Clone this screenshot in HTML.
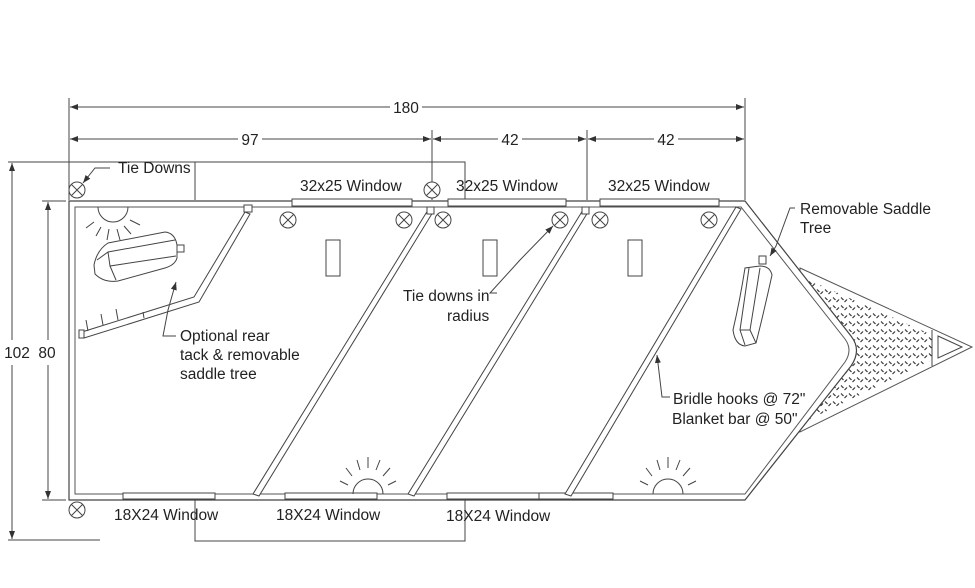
<!DOCTYPE html>
<html><head><meta charset="utf-8"><style>
html,body{margin:0;padding:0;background:#fff}
svg{display:block}
text{font-family:"Liberation Sans",sans-serif;font-size:15.5px;fill:#222}
</style></head><body>
<svg width="975" height="588" viewBox="0 0 975 588" xmlns="http://www.w3.org/2000/svg">
<defs>
<pattern id="dp" width="8" height="8" patternUnits="userSpaceOnUse">
<path d="M1 1.5 L3.5 4 M4.5 6 L7 3.5" stroke="#333" stroke-width="1.2" fill="none"/>
</pattern>
<marker id="ar" markerWidth="8" markerHeight="6" refX="8" refY="3" orient="auto"><path d="M0 0 L8 3 L0 6z" fill="#333"/></marker>
<marker id="al" markerWidth="8" markerHeight="6" refX="0" refY="3" orient="auto"><path d="M8 0 L0 3 L8 6z" fill="#333"/></marker>
<g id="td"><circle r="8" fill="#fff" stroke="#444" stroke-width="1"/><path d="M-5.5 -5.5 L5.5 5.5 M5.5 -5.5 L-5.5 5.5" stroke="#444" stroke-width="1"/></g>
</defs>
<g stroke="#444" stroke-width="1" fill="none">
<line x1="69" y1="98" x2="69" y2="200"/>
<line x1="745" y1="98" x2="745" y2="200"/>
<line x1="432" y1="130" x2="432" y2="200"/>
<line x1="587" y1="130" x2="587" y2="200"/>
<line x1="70" y1="107" x2="390" y2="107" marker-start="url(#al)"/>
<line x1="422" y1="107" x2="744" y2="107" marker-end="url(#ar)"/>
<line x1="70" y1="139" x2="238" y2="139" marker-start="url(#al)"/>
<line x1="262" y1="139" x2="431" y2="139" marker-end="url(#ar)"/>
<line x1="433" y1="139" x2="498" y2="139" marker-start="url(#al)"/>
<line x1="522" y1="139" x2="586" y2="139" marker-end="url(#ar)"/>
<line x1="588" y1="139" x2="654" y2="139" marker-start="url(#al)"/>
<line x1="678" y1="139" x2="744" y2="139" marker-end="url(#ar)"/>
<polyline points="8,162 195,162"/>
<polyline points="195,200 195,162 465,162 465,200"/>
<polyline points="8,540 100,540"/>
<polyline points="195,500 195,541 465,541 465,500"/>
<line x1="12" y1="163" x2="12" y2="340" marker-start="url(#al)"/>
<line x1="12" y1="365" x2="12" y2="539" marker-end="url(#ar)"/>
<line x1="42" y1="201" x2="66" y2="201"/>
<line x1="42" y1="500" x2="66" y2="500"/>
<line x1="48" y1="202" x2="48" y2="340" marker-start="url(#al)"/>
<line x1="48" y1="365" x2="48" y2="499" marker-end="url(#ar)"/>
<polygon points="800,268 972,347 800,432" stroke="#555"/>
<polygon points="800,276 932,335 932,360 800,424" fill="url(#dp)" stroke="none"/>
<line x1="932" y1="330" x2="932" y2="366"/>
<polygon points="938,336 962,347 938,358"/>
<path d="M69 201 L745 201 L851 336 Q862 350 851 366 L745 500 L69 500 Z" fill="#fff" stroke="#444" stroke-width="1.2"/>
<path d="M75 207 L741 207 L845 339 Q853 350 845 362 L745 494 L75 494 Z" stroke="#555"/>
<rect x="292" y="199" width="120" height="7" fill="#fff"/>
<rect x="448" y="199" width="118" height="7" fill="#fff"/>
<rect x="600" y="199" width="119" height="7" fill="#fff"/>
<rect x="123" y="493" width="92" height="6" fill="#fff"/>
<rect x="285" y="493" width="92" height="6" fill="#fff"/>
<rect x="447" y="493" width="92" height="6" fill="#fff"/>
<rect x="539" y="493" width="74" height="6" fill="#fff"/>
<polygon points="428,210 433,212 259,496 253,494" fill="#fff"/>
<polygon points="583,210 588,212 414,496 408,494" fill="#fff"/>
<polygon points="736,207 741,209 571,496 565,494" fill="#fff"/>
<polygon points="245,212 250,214 199,302 84,338 82,332 194,297" fill="#fff"/>
<rect x="244" y="205" width="8" height="7" fill="#fff"/>
<rect x="427" y="207" width="7" height="7" fill="#fff"/>
<rect x="582" y="207" width="7" height="7" fill="#fff"/>
<rect x="79" y="330" width="5" height="8" fill="#fff"/>
<path d="M88 331 L86 320 M103 325 L101 314 M118 320 L116 309 M144 318 L143 312"/>
<rect x="326" y="240" width="14" height="36"/>
<rect x="483" y="240" width="14" height="36"/>
<rect x="628" y="240" width="14" height="36"/>
<path d="M98 207 A15 15 0 0 0 128 207"/>
<path d="M94 222 L86 228 M101 227 L96 236 M109 229 L107 240 M117 229 L120 240 M124 226 L131 234 M130 220 L140 225"/>
<path d="M353 494 A15 15 0 0 1 383 494"/>
<path d="M348 485 L340 481 M352 476 L346 468 M360 470 L357 460 M368 468 L368 457 M376 470 L380 460 M383 476 L390 468 M388 485 L396 481"/>
<path d="M653 494 A15 15 0 0 1 683 494"/>
<path d="M648 485 L640 481 M652 476 L646 468 M660 470 L657 460 M668 468 L668 457 M676 470 L680 460 M683 476 L690 468 M688 485 L696 481"/>
<path d="M94 265 Q97 250 108 243 L165 232 Q175 233 177 245 L177 258 Q175 265 165 268 L118 281 Q104 283 95 274 Z"/>
<path d="M97 260 L108 252 L175 240 M108 252 L110 266 L176 256 M110 266 L116 280"/>
<rect x="177" y="245" width="7" height="7"/>
<path d="M745 268 Q740 300 733 330 Q735 345 745 346 L756 343 Q762 320 772 275 Q770 266 760 266 Z"/>
<path d="M749 268 L740 330 L745 345 M760 268 L750 330 L756 343 M740 330 L750 330"/>
<rect x="759" y="256" width="7" height="8"/>
<path d="M110 168 L95 168 L83 183" marker-end="url(#ar)"/>
<path d="M497 293 L490 293 L520 260 L553 226" marker-end="url(#ar)"/>
<path d="M176 336 L163 336 L168 310 L176 282" marker-end="url(#ar)"/>
<path d="M795 208 L790 208 L776 246 L770 256" marker-end="url(#ar)"/>
<path d="M670 397 L662 397 L657 355" marker-end="url(#ar)"/>
</g>
<g>
<use href="#td" x="77" y="190"/><use href="#td" x="432" y="190"/>
<use href="#td" x="288" y="220"/><use href="#td" x="404" y="220"/><use href="#td" x="443" y="220"/>
<use href="#td" x="560" y="220"/><use href="#td" x="600" y="220"/><use href="#td" x="709" y="220"/>
<use href="#td" x="77" y="510"/>
</g>
<g>
<rect x="390" y="99" width="32" height="14" fill="#fff"/>
<text x="406" y="113" text-anchor="middle">180</text>
<text x="250" y="145" text-anchor="middle">97</text>
<text x="510" y="145" text-anchor="middle">42</text>
<text x="666" y="145" text-anchor="middle">42</text>
<text x="17" y="358" text-anchor="middle">102</text>
<text x="47" y="358" text-anchor="middle">80</text>
<text x="118" y="173">Tie Downs</text>
<text x="300" y="191">32x25 Window</text>
<text x="456" y="191">32x25 Window</text>
<text x="608" y="191">32x25 Window</text>
<text x="800" y="214">Removable Saddle</text>
<text x="800" y="233">Tree</text>
<text x="403" y="301">Tie downs in</text>
<text x="447" y="321">radius</text>
<text x="180" y="341">Optional rear</text>
<text x="180" y="360">tack &amp; removable</text>
<text x="180" y="379">saddle tree</text>
<text x="673" y="404">Bridle hooks @ 72"</text>
<text x="672" y="424">Blanket bar @ 50"</text>
<text x="114" y="520">18X24 Window</text>
<text x="276" y="520">18X24 Window</text>
<text x="446" y="521">18X24 Window</text>
</g>
</svg>
</body></html>
